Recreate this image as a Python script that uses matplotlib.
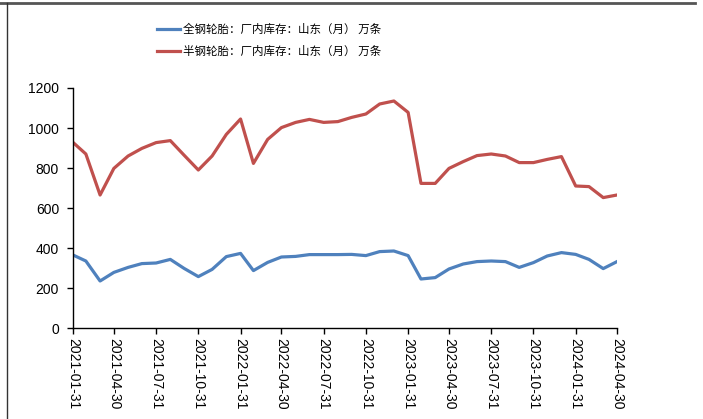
import numpy as np
import pandas as pd
import matplotlib
matplotlib.use("Agg")
import matplotlib.pyplot as plt
import matplotlib.dates as mdates
from matplotlib.lines import Line2D

plt.rcParams['font.family'] = ['Liberation Sans', 'Noto Sans CJK SC', 'DejaVu Sans']

# 数据 (万条), 月度
dates = pd.date_range('2021-01-31', '2024-04-30', freq='ME')

quangang = [365, 335, 235, 278, 303, 322, 325, 343, 298, 257, 293, 357,
            373, 287, 328, 355, 358, 367, 367, 367, 368, 362, 382, 385,
            362, 245, 252, 295, 320, 332, 335, 332, 303, 327, 360, 377,
            368, 343, 297, 332]

bangang = [928, 870, 665, 798, 860, 898, 927, 937, 864, 790, 860, 968,
           1045, 823, 943, 1002, 1028, 1043, 1028, 1032, 1053, 1070, 1120, 1135,
           1078, 723, 723, 798, 832, 862, 870, 860, 827, 827, 843, 857,
           710, 707, 652, 665]

label1 = '全钢轮胎：厂内库存：山东（月） 万条'
label2 = '半钢轮胎：厂内库存：山东（月） 万条'

fig = plt.figure(figsize=(7.03, 4.19), dpi=100)
ax = fig.add_axes([73/703, 1 - 328/419, (617 - 73)/703, 240/419])

ax.plot(dates, quangang, color='#4F81BD', lw=2.3, label=label1)
ax.plot(dates, bangang, color='#C0504D', lw=2.3, label=label2)

ax.set_xlim(dates[0], dates[-1])
ax.set_ylim(0, 1200)
ax.set_yticks(np.arange(0, 1201, 200))
ax.set_xticks(dates[::3])
ax.xaxis.set_major_formatter(mdates.DateFormatter('%Y-%m-%d'))
plt.setp(ax.get_xticklabels(), rotation=-90, ha='center', va='top')
ax.tick_params(axis='both', direction='out', length=4, width=1, labelsize=10, colors='black')
ax.tick_params(axis='y', pad=6)

for s in ['top', 'right']:
    ax.spines[s].set_visible(False)
for s in ['left', 'bottom']:
    ax.spines[s].set_linewidth(1)
    ax.spines[s].set_color('black')

leg = fig.legend(loc='upper left', bbox_to_anchor=(147/703, 1 - 13/419),
                 frameon=False, handlelength=2.0,
                 handletextpad=0.25, labelspacing=0.75,
                 prop={'family': ['Noto Sans CJK SC', 'DejaVu Sans'], 'size': 8.3})

# 外框线
fig.add_artist(Line2D([0, 695/703], [1 - 3.5/419, 1 - 3.5/419], color='#555555', lw=2))
fig.add_artist(Line2D([7/703, 7/703], [0, 1 - 3.5/419], color='#333333', lw=1))

fig.savefig('out.png', dpi=100)
